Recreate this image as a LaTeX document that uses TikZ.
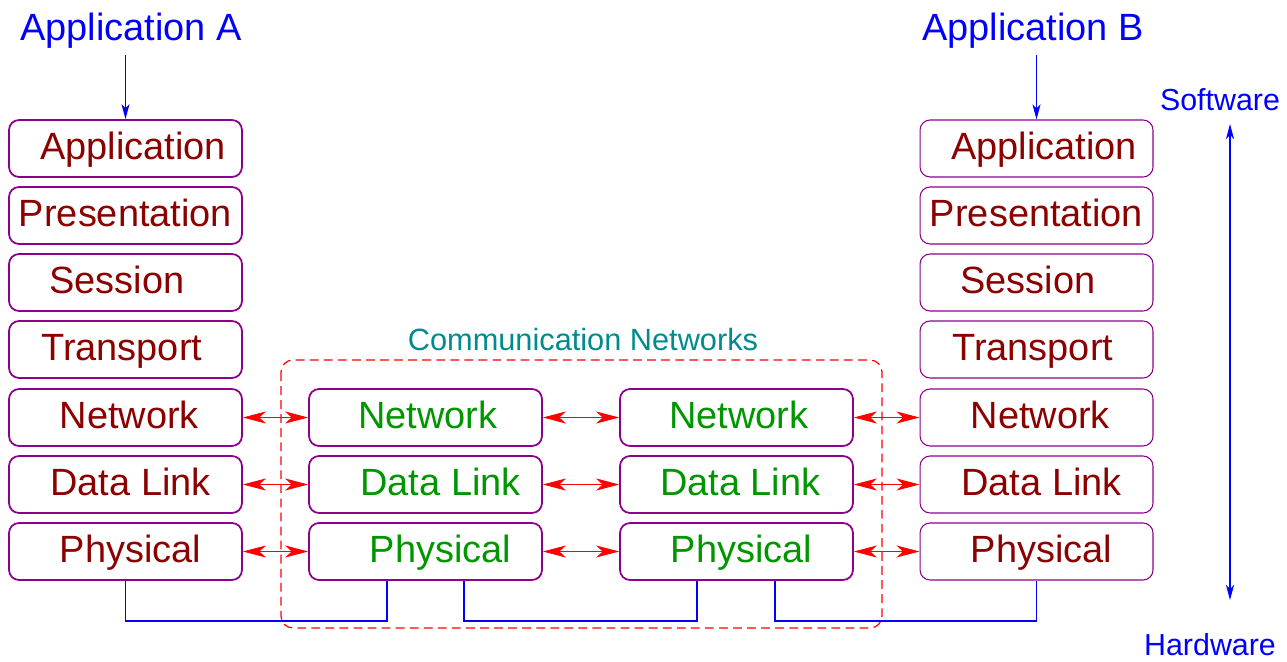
\documentclass[tikz,border=0pt]{standalone}
\usepackage{fontspec}
\setmainfont{Liberation Sans}
\usetikzlibrary{arrows.meta}
\definecolor{layertext}{RGB}{140,0,0}
\definecolor{nettext}{RGB}{0,150,0}
\definecolor{boxline}{RGB}{140,0,140}
\definecolor{netlabel}{RGB}{0,140,140}
\tikzset{
  layer/.style={draw=boxline, line width=1pt, rounded corners=0.2cm,
    minimum width=4.66cm, minimum height=1.14cm, inner sep=0pt,
    text height=15.5pt, text depth=3.5pt,
    text=layertext, font=\fontsize{21.6}{26}\selectfont},
  relay/.style={layer, text=nettext},
  thinlayer/.style={layer, line width=0.6pt},
  peer/.style={red, line width=0.5pt, {Stealth[length=0.46cm,width=0.24cm,inset=0.13cm]}-{Stealth[length=0.46cm,width=0.24cm,inset=0.13cm]}},
  wire/.style={blue, line width=1pt},
  appname/.style={text=blue, font=\fontsize{21.6}{26}\selectfont},
  sidename/.style={text=blue, font=\fontsize{17.3}{21}\selectfont},
  down/.style={blue, line width=0.7pt, -{Stealth[length=0.3cm,width=0.16cm,inset=0.08cm]}}
}
\begin{document}
\begin{tikzpicture}[x=0.02cm, y=-0.02cm]
  \useasboundingbox (0,0) rectangle (1287,662);
  % applications on top
  \node[appname] (appA) at (131,31) {Application A};
  \node[appname] (appB) at (1033,31) {Application B};
  % host A stack
  \node[layer] (la) at (125.5,148.5) {\hspace*{0.3cm}Application};
  \node[layer] (lpr) at (125.5,215.5) {Presentation};
  \node[layer] (ls) at (125.5,282.5) {Session\hspace*{0.35cm}};
  \node[layer] (lt) at (125.5,349.5) {Transport\hspace*{0.15cm}};
  \node[layer] (ln) at (125.5,417.5) {\hspace*{0.15cm}Network};
  \node[layer] (ld) at (125.5,484.5) {\hspace*{0.2cm}Data Link};
  \node[layer] (lp) at (125.5,551.5) {\hspace*{0.2cm}Physical};
  % first relay
  \node[relay] (an) at (425.5,417.5) {\hspace*{0.1cm}Network};
  \node[relay] (ad) at (425.5,484.5) {\hspace*{0.6cm}Data Link};
  \node[relay] (ap) at (425.5,551.5) {\hspace*{0.6cm}Physical};
  % second relay
  \node[relay] (bn) at (736.5,417.5) {\hspace*{0.1cm}Network};
  \node[relay] (bd) at (736.5,484.5) {\hspace*{0.15cm}Data Link};
  \node[relay] (bp) at (736.5,551.5) {\hspace*{0.2cm}Physical};
  % host B stack
  \node[thinlayer] (ra) at (1036.5,148.5) {\hspace*{0.3cm}Application};
  \node[thinlayer] (rpr) at (1036.5,215.5) {Presentation};
  \node[thinlayer] (rs) at (1036.5,282.5) {Session\hspace*{0.35cm}};
  \node[thinlayer] (rt) at (1036.5,349.5) {Transport\hspace*{0.15cm}};
  \node[thinlayer] (rn) at (1036.5,417.5) {\hspace*{0.15cm}Network};
  \node[thinlayer] (rd) at (1036.5,484.5) {\hspace*{0.2cm}Data Link};
  \node[thinlayer] (rp) at (1036.5,551.5) {\hspace*{0.2cm}Physical};
  % the network cloud
  \draw[red, line width=0.7pt, dash pattern=on 5pt off 3pt, rounded corners=0.24cm]
    (281,360) rectangle (882,628);
  \node[text=netlabel, font=\fontsize{17.5}{21}\selectfont] (cn) at (583,340) {Communication Networks};
  % application entry arrows
  \draw[down] (la.north |- appA.south) -- (la.north);
  \draw[down] (ra.north |- appB.south) -- (ra.north);
  % peer links
  \draw[peer] (ln.east) -- (an.west);
  \draw[peer] (ld.east) -- (ad.west);
  \draw[peer] (lp.east) -- (ap.west);
  \draw[peer] (an.east) -- (bn.west);
  \draw[peer] (ad.east) -- (bd.west);
  \draw[peer] (ap.east) -- (bp.west);
  \draw[peer] (bn.east) -- (rn.west);
  \draw[peer] (bd.east) -- (rd.west);
  \draw[peer] (bp.east) -- (rp.west);
  % physical media
  \draw[wire] (lp.south) -- ++(0,40) -| ([xshift=-0.77cm]ap.south);
  \draw[wire] ([xshift=0.77cm]ap.south) -- ++(0,40) -| ([xshift=-0.79cm]bp.south);
  \draw[wire] ([xshift=0.77cm]bp.south) -- ++(0,40) -| (rp.south);
  % software / hardware axis
  \node[sidename] (sw) at (1220,100) {Software};
  \node[sidename] (hw) at (1210,645) {Hardware};
  \coordinate (top) at (1230,124);
  \coordinate (bottom) at (1230,600);
  \draw[down, {Stealth[length=0.3cm,width=0.16cm,inset=0.08cm]}-{Stealth[length=0.3cm,width=0.16cm,inset=0.08cm]}] (top) -- (bottom);
\end{tikzpicture}
\end{document}
